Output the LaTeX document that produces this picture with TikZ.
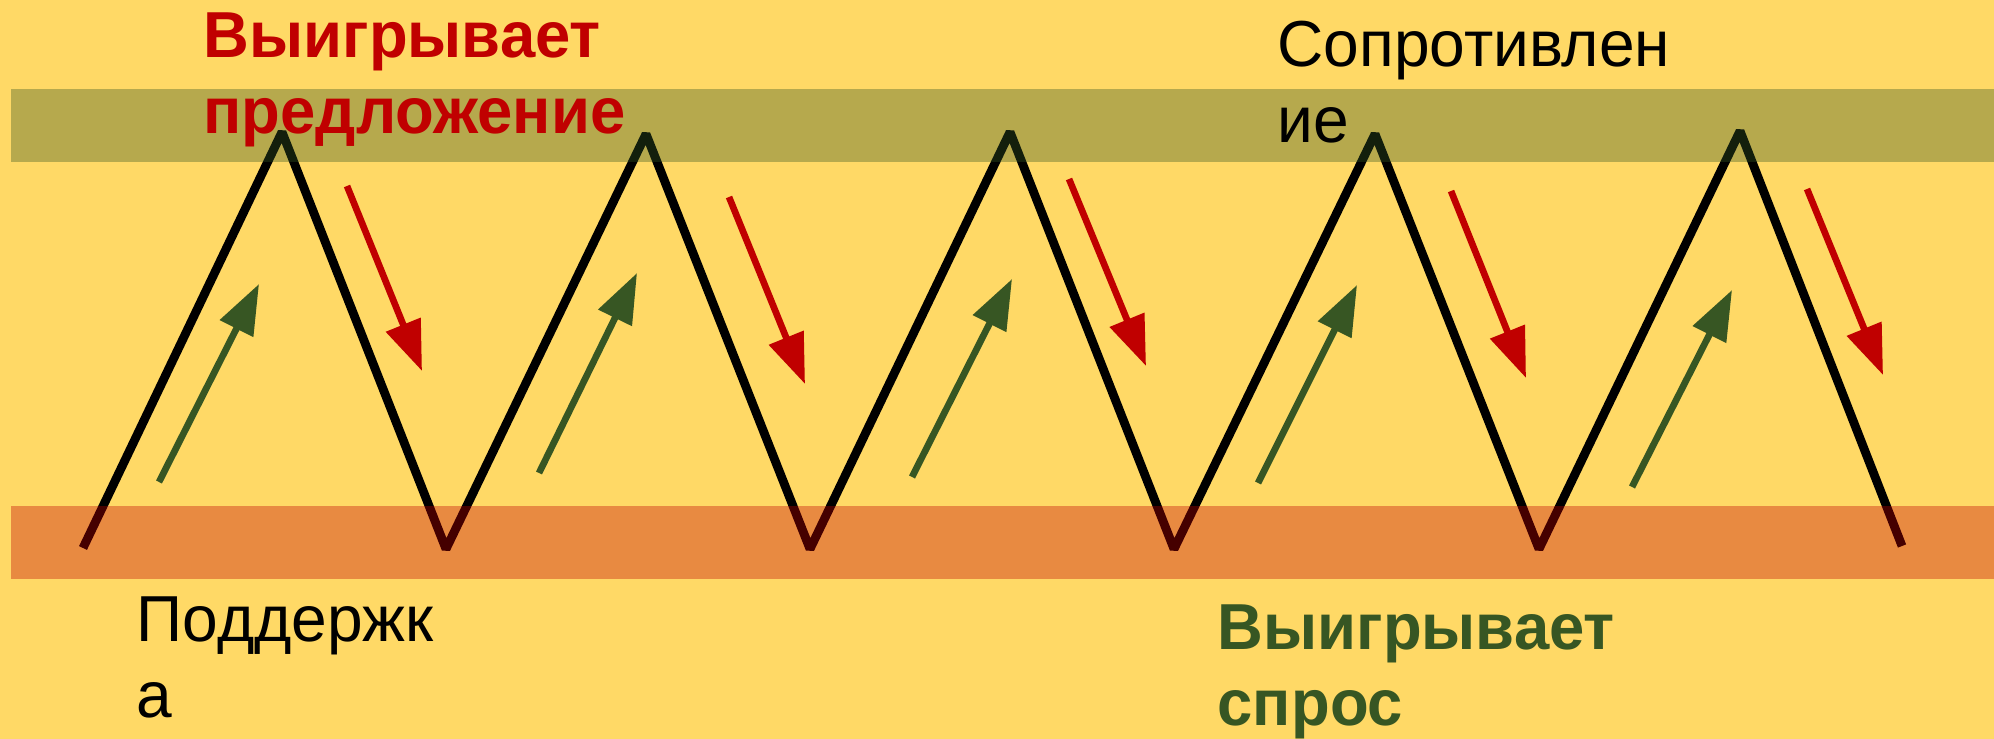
\documentclass[tikz,border=0pt]{standalone}
\usepackage{fontspec}
\setmainfont{Liberation Sans}[FakeStretch=0.985]
\newfontfamily\winfont[FakeStretch=0.975]{Liberation Sans}
\usepackage{tikz}
\usetikzlibrary{arrows.meta}
\definecolor{bgyellow}{RGB}{255,217,102}
\definecolor{winred}{RGB}{192,0,0}
\definecolor{wingreen}{RGB}{55,86,35}
\tikzset{
  zigzag/.style={line width=2.5pt, black, line cap=butt, line join=bevel},
  band/.style={opacity=0.36},
  pushup/.style={wingreen, line width=1.9pt, -{Triangle[length=5mm, width=3.6mm]}},
  pushdown/.style={winred, line width=1.9pt, -{Triangle[length=5mm, width=3.6mm]}},
  caption/.style={anchor=north west, inner sep=0pt, align=left, font=\fontsize{18.5}{21.6}\selectfont},
  wincaption/.style={caption, font=\winfont\bfseries\fontsize{18.5}{21.6}\selectfont}
}
\begin{document}
\begin{tikzpicture}[x=0.1mm, y=-0.1mm]
  \fill[bgyellow] (0,0) rectangle (1994,739);
  % price path between support and resistance
  \foreach \i/\x/\y in {0/83/548, 1/282/132, 2/446/549, 3/646/134, 4/810/549, 5/1010/132,
                        6/1174/549, 7/1375/134, 8/1539/549, 9/1740/131, 10/1902/546}
    \coordinate (p\i) at (\x,\y);
  \draw[zigzag] (p0) -- (p1) -- (p2) -- (p3) -- (p4) -- (p5) -- (p6) -- (p7) -- (p8) -- (p9) -- (p10);
  % resistance and support bands
  \fill[band, wingreen] (11,89) rectangle (1994,162);
  \fill[band, winred] (11,506) rectangle (1994,579);
  % demand pushes up, supply pushes down
  \foreach \i/\ax/\ay/\bx/\by in {1/159/482/259/284, 2/539/473/637/273, 3/912/477/1012/279,
                                  4/1258/483/1357/285, 5/1632/487/1732/290} {
    \coordinate (up\i a) at (\ax,\ay);
    \coordinate (up\i b) at (\bx,\by);
    \draw[pushup] (up\i a) -- (up\i b);
  }
  \foreach \i/\ax/\ay/\bx/\by in {1/347/186/422/371, 2/729/197/805/384, 3/1069/179/1146/366,
                                  4/1451/191/1526/378, 5/1807/189/1883/375} {
    \coordinate (dn\i a) at (\ax,\ay);
    \coordinate (dn\i b) at (\bx,\by);
    \draw[pushdown] (dn\i a) -- (dn\i b);
  }
  % labels
  \node[wincaption, winred] (supply) at (203,12) {Выигрывает\\предложение};
  \node[caption] (resist) at (1277,20) {Сопротивлен\\ие};
  \node[caption] (support) at (136,596) {Поддержк\\а};
  \node[wincaption, wingreen] (demand) at (1217,604) {Выигрывает\\спрос};
\end{tikzpicture}
\end{document}
